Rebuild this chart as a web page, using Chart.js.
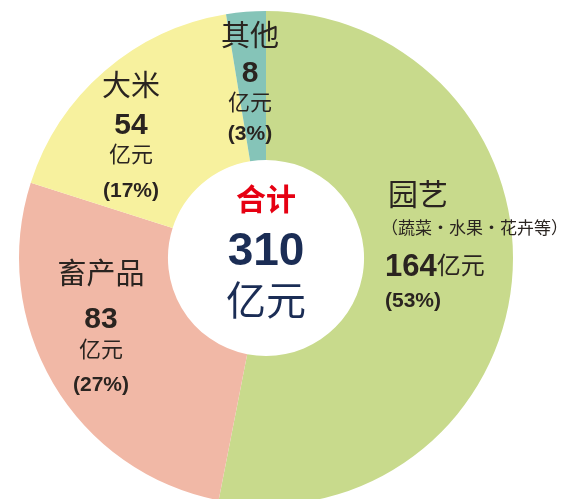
<!DOCTYPE html>
<html>
<head>
<meta charset="utf-8">
<script src="https://cdn.jsdelivr.net/npm/chart.js@4"></script>
<style>
  html, body { margin: 0; padding: 0; background: #fff; overflow: hidden; }
  #wrap { width: 563px; height: 499px; overflow: hidden; }
  canvas { display: block; }
</style>
</head>
<body>
<div id="wrap"><canvas id="pie" width="563" height="520"></canvas></div>
<script>
const categories = ['园艺', '畜产品', '大米', '其他'];
const values = [164, 83, 54, 8];
const percents = [53, 27, 17, 3];
const notes = ['（蔬菜・水果・花卉等）', '', '', ''];
const totalLabel = '合计';
const totalValue = 310;
const unit = '亿元';

const colors = ['rgb(200, 218, 140)', 'rgb(241, 184, 166)', 'rgb(247, 241, 158)', 'rgb(133, 196, 184)'];
const ink = '#2a2420';
const FONT = "'Liberation Sans', 'Noto Sans CJK SC', sans-serif";

// where each label block sits, relative to the doughnut centre
const labelLayout = [
  { dx: 122, align: 'left', dy: [-61, -29, 9, 43] },
  { dx: -165, align: 'center', dy: [18, 62, 93, 127] },
  { dx: -135, align: 'center', dy: [-170, -132, -102, -67] },
  { dx: -16, align: 'center', dy: [-220, -184, -154, -124] }
];

function font(size, bold) {
  return (bold ? 'bold ' : '') + size + 'px ' + FONT;
}

const labelPlugin = {
  id: 'sliceLabels',
  afterDatasetsDraw(chart) {
    const ctx = chart.ctx;
    const arc = chart.getDatasetMeta(0).data[0];
    const cx = arc.x, cy = arc.y;
    ctx.save();
    ctx.textBaseline = 'middle';
    ctx.fillStyle = ink;

    categories.forEach((name, i) => {
      const L = labelLayout[i];
      const x = cx + L.dx;
      ctx.textAlign = L.align;
      if (notes[i]) {
        // 园艺: name / note / value+unit on one line / percent
        ctx.font = font(30, false);
        ctx.fillText(name, x, cy + L.dy[0]);
        ctx.font = font(17, false);
        ctx.fillText(notes[i], x - 7, cy + L.dy[1]);
        ctx.font = font(31, true);
        const v = String(values[i]);
        ctx.fillText(v, x - 3, cy + L.dy[2]);
        const w = ctx.measureText(v).width;
        ctx.font = font(24, false);
        ctx.fillText(unit, x - 3 + w, cy + L.dy[2]);
        ctx.font = font(21, true);
        ctx.fillText('(' + percents[i] + '%)', x - 3, cy + L.dy[3]);
      } else {
        ctx.font = font(29, false);
        ctx.fillText(name, x, cy + L.dy[0]);
        ctx.font = font(30, true);
        ctx.fillText(String(values[i]), x, cy + L.dy[1]);
        ctx.font = font(22, false);
        ctx.fillText(unit, x, cy + L.dy[2]);
        ctx.font = font(21, true);
        ctx.fillText('(' + percents[i] + '%)', x, cy + L.dy[3]);
      }
    });

    // centre total
    ctx.textAlign = 'center';
    ctx.fillStyle = '#e60012';
    ctx.font = font(30, true);
    ctx.fillText(totalLabel, cx, cy - 56);
    ctx.fillStyle = '#1b2d55';
    ctx.font = font(46, true);
    ctx.fillText(String(totalValue), cx, cy - 6);
    ctx.font = font(40, false);
    ctx.fillText(unit, cx, cy + 46);
    ctx.restore();
  }
};

new Chart(document.getElementById('pie').getContext('2d'), {
  type: 'doughnut',
  data: {
    labels: categories,
    datasets: [{
      data: values,
      backgroundColor: colors,
      borderWidth: 0
    }]
  },
  options: {
    responsive: false,
    animation: false,
    cutout: '39.7%',
    rotation: 0,
    layout: { padding: { left: 19, top: 11, right: 50, bottom: 15 } },
    plugins: {
      legend: { display: false },
      tooltip: { enabled: false }
    }
  },
  plugins: [labelPlugin]
});
</script>
</body>
</html>
